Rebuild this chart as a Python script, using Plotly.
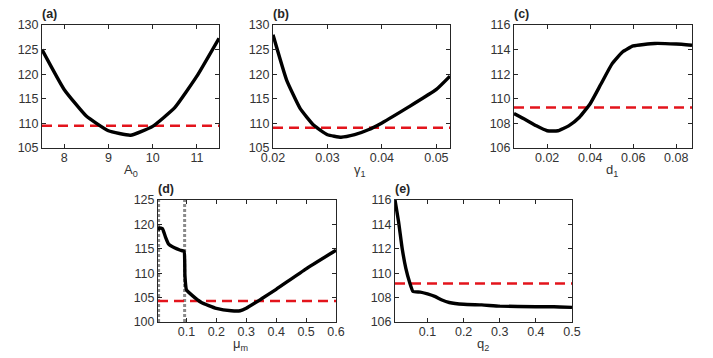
import plotly.graph_objects as go

# ---------------- data ----------------
a_x = [7.5, 8, 8.5, 9, 9.5, 10, 10.5, 11, 11.5]
a_y = [125.0, 116.9, 111.5, 108.5, 107.6, 109.4, 113.2, 119.6, 127.3]
a_ref = 109.5

b_x = [0.02, 0.0225, 0.025, 0.0275, 0.03, 0.0325, 0.035, 0.0375, 0.04, 0.045, 0.05, 0.0525]
b_y = [128.0, 118.8, 113.0, 109.6, 107.7, 107.2, 107.7, 108.7, 110.1, 113.4, 116.9, 119.6]
b_ref = 109.1

c_x = [0.0046, 0.01, 0.015, 0.02, 0.025, 0.03, 0.035, 0.04, 0.045, 0.05, 0.055, 0.06, 0.07, 0.08, 0.0873]
c_y = [108.8, 108.3, 107.8, 107.4, 107.4, 107.8, 108.5, 109.6, 111.2, 112.8, 113.8, 114.3, 114.5, 114.45, 114.35]
c_ref = 109.3

d_x = [0.005, 0.01, 0.02, 0.03, 0.04, 0.06, 0.08, 0.092, 0.095, 0.1, 0.12, 0.15, 0.2, 0.25, 0.28, 0.3, 0.35, 0.4, 0.5, 0.6]
d_y = [118.8, 119.3, 119.1, 117.4, 116.0, 115.2, 114.7, 114.5, 109.5, 106.6, 105.4, 104.0, 102.8, 102.3, 102.3, 102.8, 104.7, 106.7, 110.9, 114.7]
d_ref = 104.3
d_marks = [0.007, 0.094]

e_x = [0.01, 0.02, 0.03, 0.04, 0.05, 0.06, 0.08, 0.1, 0.12, 0.14, 0.16, 0.2, 0.25, 0.3, 0.4, 0.45, 0.5]
e_y = [116.0, 114.2, 112.0, 110.4, 109.3, 108.5, 108.45, 108.3, 108.1, 107.8, 107.6, 107.45, 107.4, 107.3, 107.25, 107.25, 107.2]
e_ref = 109.15

panels = [
    dict(x=a_x, y=a_y, ref=a_ref, xr=[7.5, 11.5], yr=[105, 130], xt=[8, 9, 10, 11], xtt=["8", "9", "10", "11"],
         yt=[105, 110, 115, 120, 125, 130], title="A<sub>0</sub>", lab="(a)"),
    dict(x=b_x, y=b_y, ref=b_ref, xr=[0.02, 0.0525], yr=[105, 130], xt=[0.02, 0.03, 0.04, 0.05],
         xtt=["0.02", "0.03", "0.04", "0.05"], yt=[105, 110, 115, 120, 125, 130], title="γ<sub>1</sub>", lab="(b)"),
    dict(x=c_x, y=c_y, ref=c_ref, xr=[0.0046, 0.0873], yr=[106, 116], xt=[0.02, 0.04, 0.06, 0.08],
         xtt=["0.02", "0.04", "0.06", "0.08"], yt=[106, 108, 110, 112, 114, 116], title="d<sub>1</sub>", lab="(c)"),
    dict(x=d_x, y=d_y, ref=d_ref, xr=[0.005, 0.6], yr=[100, 125], xt=[0.1, 0.2, 0.3, 0.4, 0.5, 0.6],
         xtt=["0.1", "0.2", "0.3", "0.4", "0.5", "0.6"], yt=[100, 105, 110, 115, 120, 125], title="μ<sub>m</sub>", lab="(d)"),
    dict(x=e_x, y=e_y, ref=e_ref, xr=[0.01, 0.5], yr=[106, 116], xt=[0.1, 0.2, 0.3, 0.4, 0.5],
         xtt=["0.1", "0.2", "0.3", "0.4", "0.5"], yt=[106, 108, 110, 112, 114, 116], title="q<sub>2</sub>", lab="(e)"),
]

W, H = 713, 358
boxes = [  # left, right, top, bottom in pixels
    (42, 219, 25, 148),
    (273, 450, 25, 148),
    (514, 692, 25, 148),
    (158, 336, 200, 322),
    (395, 572, 200, 322),
]
title_pos = [(131, 170), (360, 170), (612, 170), (240, 344), (483, 344)]

fig = go.Figure()
font_family = "Liberation Sans, Arial, sans-serif"
layout = {}
annotations = []

for i, (p, (l, r, t, b)) in enumerate(zip(panels, boxes)):
    n = i + 1
    xa = "x" if n == 1 else f"x{n}"
    ya = "y" if n == 1 else f"y{n}"
    if p["lab"] == "(d)":
        for xm in d_marks:
            fig.add_trace(go.Scatter(x=[xm, xm], y=p["yr"], mode="lines", xaxis=xa, yaxis=ya,
                                     line=dict(color="#8a8a8a", width=3, dash="3px,2px"),
                                     showlegend=False, hoverinfo="skip"))
    fig.add_trace(go.Scatter(x=p["xr"], y=[p["ref"], p["ref"]], mode="lines", xaxis=xa, yaxis=ya,
                             line=dict(color="#e3141c", width=2.5, dash="10px,6px"),
                             showlegend=False, hoverinfo="skip"))
    fig.add_trace(go.Scatter(x=p["x"], y=p["y"], mode="lines", xaxis=xa, yaxis=ya,
                             line=dict(color="black", width=3.4, shape="spline", smoothing=0.4),
                             showlegend=False))
    axcommon = dict(showline=True, linecolor="#262626", linewidth=1, mirror="ticks",
                    ticks="inside", ticklen=4, tickcolor="#262626", showgrid=False, zeroline=False,
                    automargin=False,
                    tickfont=dict(family=font_family, size=12.5, color="#333333"))
    layout["xaxis" if n == 1 else f"xaxis{n}"] = dict(
        domain=[l / W, r / W], range=p["xr"], tickvals=p["xt"], ticktext=p["xtt"],
        anchor=ya, ticklabelstandoff=-2, **axcommon)
    layout["yaxis" if n == 1 else f"yaxis{n}"] = dict(
        domain=[1 - b / H, 1 - t / H], range=p["yr"], tickvals=p["yt"],
        anchor=xa, **axcommon)
    annotations.append(dict(text="<b>" + p["lab"] + "</b>", x=(l - 2) / W, y=1 - (t - 2) / H, xref="paper", yref="paper",
                            xanchor="left", yanchor="bottom", showarrow=False,
                            font=dict(family=font_family, size=12.5, color="#262626")))
    tx, ty = title_pos[i]
    annotations.append(dict(text=p["title"], x=tx / W, y=1 - ty / H, xref="paper", yref="paper",
                            xanchor="center", yanchor="middle", showarrow=False,
                            font=dict(family=font_family, size=13, color="#333333")))

fig.update_layout(width=W, height=H, margin=dict(l=0, r=0, t=0, b=0), plot_bgcolor="white",
                  paper_bgcolor="white", annotations=annotations, **layout)
fig.write_html("out.html", config={"displayModeBar": False},
               post_script="document.body.style.margin='0';")
